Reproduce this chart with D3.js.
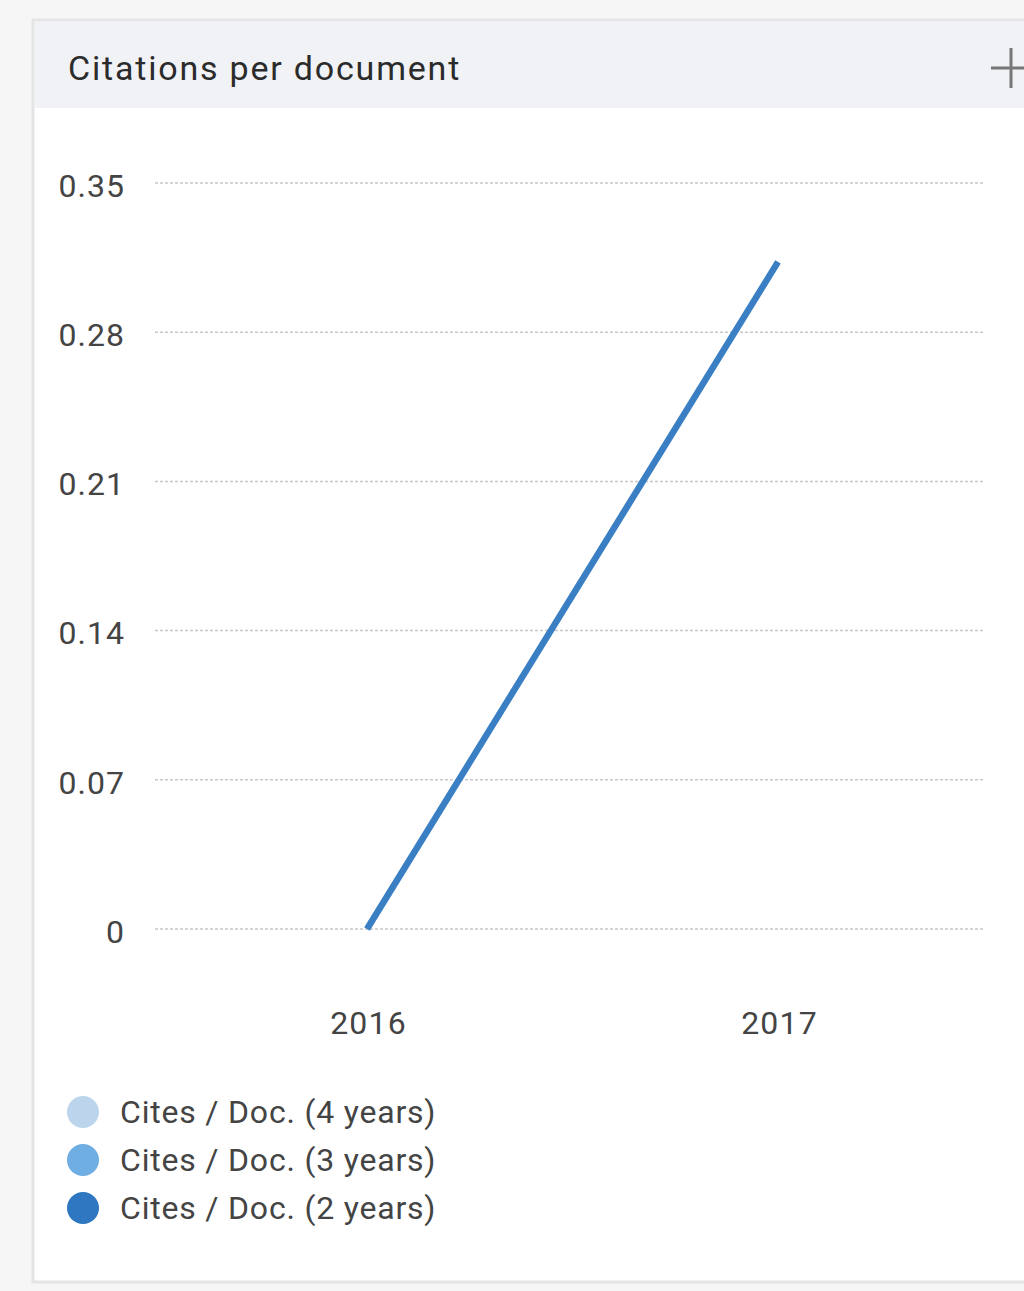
<!DOCTYPE html>
<html>
<head>
<meta charset="utf-8">
<script src="https://cdn.jsdelivr.net/npm/d3@7"></script>
<style>
  html, body { margin: 0; padding: 0; background: #f6f6f6; }
  body { width: 1024px; height: 1291px; overflow: hidden; font-family: Roboto, "Noto Sans", sans-serif; }
</style>
</head>
<body>
<div id="chart"></div>
<script>
// chart data
const title = "Citations per document";
const years = ["2016", "2017"];
const cites2y = [0, 0.313];
const yTicks = [0, 0.07, 0.14, 0.21, 0.28, 0.35];
const legendLabels = ["Cites / Doc. (4 years)", "Cites / Doc. (3 years)", "Cites / Doc. (2 years)"];
const legendColors = ["#bcd5ec", "#6faee3", "#2f78c1"];

function main() {
    const width = 1024;
    const height = 1291;

    const svg = d3.select("#chart")
        .append("svg")
        .attr("width", width)
        .attr("height", height);

    // panel: white body with a grey header band
    svg.append("rect")
        .attr("x", 33).attr("y", 20)
        .attr("width", width).attr("height", 1262)
        .attr("fill", "#ffffff")
        .attr("stroke", "#e4e4e4")
        .attr("stroke-width", 3);
    svg.append("rect")
        .attr("x", 35).attr("y", 21)
        .attr("width", width).attr("height", 87)
        .attr("fill", "#f1f2f6");

    svg.append("text")
        .attr("x", 68).attr("y", 80)
        .attr("font-size", 34)
        .attr("letter-spacing", 1.8)
        .attr("fill", "#2b2b2b")
        .text(title);

    // plus icon at the right edge of the header
    svg.append("path")
        .attr("d", "M991,68H1024M1011,48V88")
        .attr("stroke", "#777")
        .attr("stroke-width", 3);

    // scales
    const x = d3.scalePoint().domain(years).range([367, 778]);
    const y = d3.scaleLinear().domain([0, 0.35]).range([929, 183]);

    // grid
    svg.append("g")
        .selectAll("line")
        .data(yTicks)
        .join("line")
        .attr("x1", 155).attr("x2", 985)
        .attr("y1", d => y(d)).attr("y2", d => y(d))
        .attr("stroke", "#c8c8c8")
        .attr("stroke-width", 1.5)
        .attr("stroke-dasharray", "3,2");

    // y axis labels
    const yAxis = d3.axisLeft(y).tickValues(yTicks).tickSize(0).tickPadding(0)
        .tickFormat(d => d === 0 ? "0" : d3.format(".2f")(d));
    svg.append("g")
        .attr("transform", "translate(125,3)")
        .call(yAxis)
        .call(g => g.select(".domain").remove())
        .call(g => g.selectAll("text")
            .attr("font-size", 32)
            .attr("letter-spacing", 1)
            .attr("font-family", "Roboto, sans-serif")
            .attr("fill", "#444"));

    // x axis labels
    const xAxis = d3.axisBottom(x).tickSize(0).tickPadding(0);
    svg.append("g")
        .attr("transform", "translate(1,1011)")
        .call(xAxis)
        .call(g => g.select(".domain").remove())
        .call(g => g.selectAll("text")
            .attr("font-size", 32)
            .attr("letter-spacing", 1.2)
            .attr("font-family", "Roboto, sans-serif")
            .attr("fill", "#444"));

    // line
    const line = d3.line()
        .x((d, i) => x(years[i]))
        .y(d => y(d));
    svg.append("path")
        .datum(cites2y)
        .attr("d", line)
        .attr("fill", "none")
        .attr("stroke", "#3a7fc3")
        .attr("stroke-width", 6.5);

    // legend
    const legend = svg.append("g")
        .selectAll("g")
        .data(legendLabels)
        .join("g")
        .attr("transform", (d, i) => `translate(83,${1112 + i * 48})`);
    legend.append("circle")
        .attr("r", 16)
        .attr("fill", (d, i) => legendColors[i]);
    legend.append("text")
        .attr("x", 37).attr("dy", "0.35em")
        .attr("font-size", 32)
        .attr("letter-spacing", 0.8)
        .attr("fill", "#444")
        .text(d => d);
}
main();
</script>
</body>
</html>
